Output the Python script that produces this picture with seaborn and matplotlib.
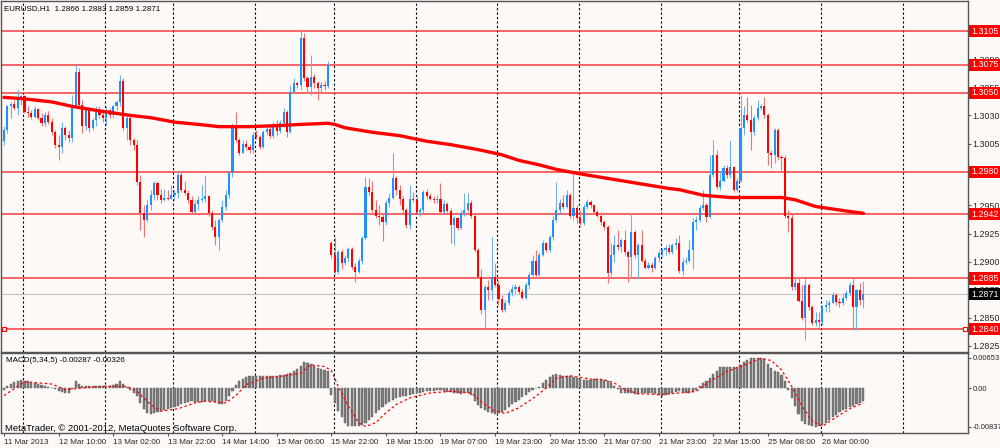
import numpy as np
import matplotlib
matplotlib.use("Agg")
import matplotlib.pyplot as plt
import matplotlib.transforms as mtransforms
import seaborn as sns

# EURUSD H1 candles
opens = [
    1.3007, 1.3017, 1.3038, 1.3040, 1.3037, 1.3046, 1.3047, 1.3033, 1.3032, 1.3029,
    1.3036, 1.3028, 1.3023, 1.3030, 1.3024, 1.3015, 1.3004, 1.3002, 1.3019, 1.3013,
    1.3010, 1.3038, 1.3069, 1.3039, 1.3021, 1.3035, 1.3019, 1.3026, 1.3033, 1.3030,
    1.3028, 1.3035, 1.3030, 1.3038, 1.3042, 1.3061, 1.3019, 1.3028, 1.3008, 1.3004,
    1.2971, 1.2943, 1.2937, 1.2950, 1.2959, 1.2970, 1.2959, 1.2955, 1.2957, 1.2956,
    1.2959, 1.2961, 1.2977, 1.2964, 1.2961, 1.2955, 1.2944, 1.2951, 1.2955, 1.2956,
    1.2958, 1.2943, 1.2931, 1.2922, 1.2937, 1.2949, 1.2959, 1.2979, 1.3019, 1.3008,
    1.2997, 1.3005, 1.3002, 1.2999, 1.3013, 1.3011, 1.3002, 1.3015, 1.3018, 1.3012,
    1.3021, 1.3016, 1.3023, 1.3033, 1.3015, 1.3051, 1.3059, 1.3057, 1.3099, 1.3063,
    1.3055, 1.3064, 1.3059, 1.3054, 1.3057, 1.3056, 1.2917, 1.2906, 1.2891, 1.2909,
    1.2899, 1.2903, 1.2911, 1.2895, 1.2891, 1.2901, 1.2921, 1.2966, 1.2962, 1.2946,
    1.2941, 1.2940, 1.2935, 1.2952, 1.2957, 1.2974, 1.2964, 1.2956, 1.2946, 1.2933,
    1.2956, 1.2955, 1.2944, 1.2946, 1.2962, 1.2958, 1.2956, 1.2955, 1.2956, 1.2944,
    1.2951, 1.2945, 1.2933, 1.2939, 1.2930, 1.2943, 1.2946, 1.2952, 1.2941, 1.2910,
    1.2886, 1.2857, 1.2877, 1.2875, 1.2886, 1.2879, 1.2867, 1.2857, 1.2863, 1.2872,
    1.2876, 1.2877, 1.2873, 1.2868, 1.2879, 1.2888, 1.2901, 1.2888, 1.2906, 1.2917,
    1.2910, 1.2922, 1.2937, 1.2946, 1.2952, 1.2949, 1.2959, 1.2941, 1.2948, 1.2939,
    1.2934, 1.2949, 1.2953, 1.2950, 1.2944, 1.2941, 1.2935,
    1.2931, 1.2890, 1.2906, 1.2915, 1.2913, 1.2919, 1.2909, 1.2904, 1.2926, 1.2906,
    1.2915, 1.2901, 1.2894, 1.2897, 1.2894, 1.2903, 1.2908, 1.2910, 1.2912,
    1.2909, 1.2915, 1.2917, 1.2892, 1.2900, 1.2901, 1.2910, 1.2935, 1.2937, 1.2948,
    1.2950, 1.2940, 1.2977, 1.2995, 1.2966, 1.2972, 1.2983, 1.2977, 1.2984, 1.2964,
    1.2972, 1.3019, 1.3030, 1.3026, 1.3015, 1.3028, 1.3037, 1.3038, 1.3030, 1.2997,
    1.2995, 1.3017, 1.2993, 1.2992, 1.2941, 1.2939, 1.2877, 1.2881, 1.2865, 1.2850,
    1.2879, 1.2860, 1.2845, 1.2848, 1.2846, 1.2860, 1.2861, 1.2863, 1.2870, 1.2864,
    1.2863, 1.2868, 1.2872, 1.2879, 1.2860, 1.2875, 1.2866,
]
highs = [
    1.3021, 1.3039, 1.3042, 1.3044, 1.3053, 1.3048, 1.3048, 1.3038, 1.3035, 1.3038,
    1.3037, 1.3032, 1.3033, 1.3034, 1.3028, 1.3017, 1.3013, 1.3024, 1.3021, 1.3017,
    1.3048, 1.3075, 1.3072, 1.3044, 1.3037, 1.3037, 1.3028, 1.3038, 1.3038, 1.3035,
    1.3038, 1.3037, 1.3039, 1.3044, 1.3066, 1.3063, 1.3030, 1.3030, 1.3010, 1.3008,
    1.2977, 1.2950, 1.2955, 1.2964, 1.2972, 1.2972, 1.2965, 1.2965, 1.2964, 1.2968,
    1.2964, 1.2980, 1.2980, 1.2972, 1.2964, 1.2958, 1.2955, 1.2958, 1.2968, 1.2977,
    1.2959, 1.2946, 1.2937, 1.2939, 1.2955, 1.2964, 1.2981, 1.3023, 1.3033, 1.3010,
    1.3008, 1.3008, 1.3005, 1.3015, 1.3017, 1.3013, 1.3017, 1.3021, 1.3021, 1.3024,
    1.3026, 1.3026, 1.3037, 1.3035, 1.3057, 1.3063, 1.3061, 1.3107, 1.3103, 1.3065,
    1.3084, 1.3067, 1.3061, 1.3060, 1.3061, 1.3078, 1.2918, 1.2922, 1.2910, 1.2911,
    1.2906, 1.2913, 1.2913, 1.2899, 1.2903, 1.2923, 1.2975, 1.2974, 1.2972, 1.2955,
    1.2950, 1.2943, 1.2955, 1.2961, 1.2997, 1.2976, 1.2968, 1.2958, 1.2948, 1.2968,
    1.2962, 1.2958, 1.2949, 1.2964, 1.2965, 1.2961, 1.2958, 1.2959, 1.2970, 1.2955,
    1.2953, 1.2948, 1.2941, 1.2940, 1.2946, 1.2961, 1.2961, 1.2955, 1.2943, 1.2912,
    1.2893, 1.2879, 1.2884, 1.2922, 1.2899, 1.2884, 1.2870, 1.2866, 1.2875, 1.2879,
    1.2880, 1.2879, 1.2876, 1.2882, 1.2891, 1.2906, 1.2910, 1.2909, 1.2919, 1.2917,
    1.2924, 1.2941, 1.2971, 1.2956, 1.2959, 1.2964, 1.2961, 1.2979, 1.2950, 1.2946,
    1.2951, 1.2956, 1.2955, 1.2950, 1.2946, 1.2944, 1.2937,
    1.2933, 1.2917, 1.2924, 1.2928, 1.2921, 1.2928, 1.2910, 1.2943, 1.2928, 1.2917,
    1.2928, 1.2903, 1.2900, 1.2900, 1.2905, 1.2910, 1.2912, 1.2915, 1.2916,
    1.2917, 1.2921, 1.2924, 1.2903, 1.2904, 1.2919, 1.2939, 1.2941, 1.2950, 1.2964,
    1.2952, 1.2995, 1.3008, 1.2999, 1.2981, 1.2986, 1.2986, 1.3008, 1.2985, 1.2974,
    1.3048, 1.3038, 1.3046, 1.3039, 1.3030, 1.3044, 1.3040, 1.3046, 1.3032, 1.2999,
    1.3019, 1.3019, 1.2995, 1.2995, 1.2946, 1.2943, 1.2885, 1.2886, 1.2879, 1.2885,
    1.2881, 1.2861, 1.2855, 1.2855, 1.2861, 1.2866, 1.2866, 1.2873, 1.2872, 1.2868,
    1.2871, 1.2875, 1.2882, 1.2885, 1.2876, 1.2881, 1.2883,
]
lows = [
    1.3004, 1.3014, 1.3028, 1.3035, 1.3030, 1.3039, 1.3032, 1.3029, 1.3027, 1.3028,
    1.3026, 1.3021, 1.3021, 1.3022, 1.3013, 1.3001, 1.2990, 1.2997, 1.3008, 1.3006,
    1.3006, 1.3037, 1.3037, 1.3014, 1.3017, 1.3015, 1.3017, 1.3021, 1.3028, 1.3024,
    1.3021, 1.3028, 1.3028, 1.3035, 1.3038, 1.3017, 1.3008, 1.3004, 1.2999, 1.2968,
    1.2928, 1.2922, 1.2935, 1.2946, 1.2955, 1.2955, 1.2952, 1.2954, 1.2955, 1.2956,
    1.2955, 1.2957, 1.2962, 1.2959, 1.2952, 1.2942, 1.2943, 1.2946, 1.2953, 1.2953,
    1.2941, 1.2928, 1.2915, 1.2910, 1.2935, 1.2946, 1.2957, 1.2975, 1.3006, 1.2995,
    1.2997, 1.2999, 1.2997, 1.2997, 1.3009, 1.3000, 1.3001, 1.3013, 1.3010, 1.3010,
    1.3013, 1.3014, 1.3020, 1.3011, 1.3014, 1.3051, 1.3054, 1.3053, 1.3061, 1.3051,
    1.3048, 1.3054, 1.3044, 1.3050, 1.3053, 1.3054, 1.2903, 1.2889, 1.2889, 1.2893,
    1.2897, 1.2900, 1.2893, 1.2882, 1.2890, 1.2898, 1.2919, 1.2959, 1.2944, 1.2939,
    1.2933, 1.2918, 1.2933, 1.2949, 1.2956, 1.2959, 1.2950, 1.2943, 1.2930, 1.2929,
    1.2953, 1.2942, 1.2941, 1.2943, 1.2956, 1.2955, 1.2952, 1.2952, 1.2942, 1.2943,
    1.2943, 1.2917, 1.2915, 1.2928, 1.2929, 1.2941, 1.2944, 1.2939, 1.2909, 1.2885,
    1.2853, 1.2842, 1.2866, 1.2866, 1.2877, 1.2861, 1.2855, 1.2855, 1.2861, 1.2869,
    1.2872, 1.2871, 1.2867, 1.2867, 1.2876, 1.2887, 1.2885, 1.2887, 1.2905, 1.2909,
    1.2909, 1.2919, 1.2935, 1.2943, 1.2947, 1.2948, 1.2939, 1.2937, 1.2934, 1.2932,
    1.2933, 1.2947, 1.2948, 1.2942, 1.2940, 1.2933, 1.2928,
    1.2881, 1.2887, 1.2900, 1.2910, 1.2909, 1.2906, 1.2882, 1.2885, 1.2903, 1.2885,
    1.2900, 1.2893, 1.2893, 1.2891, 1.2893, 1.2900, 1.2904, 1.2906, 1.2907,
    1.2907, 1.2911, 1.2890, 1.2888, 1.2898, 1.2900, 1.2893, 1.2928, 1.2935, 1.2946,
    1.2935, 1.2939, 1.2975, 1.2965, 1.2964, 1.2971, 1.2974, 1.2974, 1.2962, 1.2962,
    1.2971, 1.3013, 1.3024, 1.2999, 1.3013, 1.3026, 1.3035, 1.3028, 1.2986, 1.2983,
    1.2988, 1.2990, 1.2981, 1.2939, 1.2926, 1.2875, 1.2875, 1.2864, 1.2848, 1.2830,
    1.2857, 1.2844, 1.2843, 1.2842, 1.2844, 1.2855, 1.2855, 1.2862, 1.2861, 1.2860,
    1.2861, 1.2866, 1.2869, 1.2839, 1.2839, 1.2861, 1.2859,
]
closes = [
    1.3017, 1.3038, 1.3040, 1.3037, 1.3046, 1.3047, 1.3033, 1.3032, 1.3029, 1.3036,
    1.3028, 1.3023, 1.3030, 1.3024, 1.3015, 1.3004, 1.3002, 1.3019, 1.3013, 1.3010,
    1.3038, 1.3069, 1.3039, 1.3021, 1.3035, 1.3019, 1.3026, 1.3033, 1.3030, 1.3028,
    1.3035, 1.3030, 1.3038, 1.3042, 1.3061, 1.3019, 1.3028, 1.3008, 1.3004, 1.2971,
    1.2943, 1.2937, 1.2950, 1.2959, 1.2970, 1.2959, 1.2955, 1.2957, 1.2956, 1.2959,
    1.2961, 1.2977, 1.2964, 1.2961, 1.2955, 1.2944, 1.2951, 1.2955, 1.2956, 1.2958,
    1.2943, 1.2931, 1.2922, 1.2937, 1.2949, 1.2959, 1.2979, 1.3019, 1.3008, 1.2997,
    1.3005, 1.3002, 1.2999, 1.3013, 1.3011, 1.3002, 1.3015, 1.3018, 1.3012, 1.3021,
    1.3016, 1.3023, 1.3033, 1.3015, 1.3051, 1.3059, 1.3057, 1.3099, 1.3063, 1.3055,
    1.3064, 1.3059, 1.3054, 1.3057, 1.3056, 1.3075, 1.2906, 1.2891, 1.2909, 1.2899,
    1.2903, 1.2911, 1.2895, 1.2891, 1.2901, 1.2921, 1.2966, 1.2962, 1.2946, 1.2941,
    1.2940, 1.2935, 1.2952, 1.2957, 1.2974, 1.2964, 1.2956, 1.2946, 1.2933, 1.2956,
    1.2955, 1.2944, 1.2946, 1.2962, 1.2958, 1.2956, 1.2955, 1.2956, 1.2944, 1.2951,
    1.2945, 1.2933, 1.2939, 1.2930, 1.2943, 1.2946, 1.2952, 1.2941, 1.2910, 1.2886,
    1.2857, 1.2877, 1.2875, 1.2886, 1.2879, 1.2867, 1.2857, 1.2863, 1.2872, 1.2876,
    1.2877, 1.2873, 1.2868, 1.2879, 1.2888, 1.2901, 1.2888, 1.2906, 1.2917, 1.2910,
    1.2922, 1.2937, 1.2946, 1.2952, 1.2949, 1.2959, 1.2941, 1.2948, 1.2939, 1.2934,
    1.2949, 1.2953, 1.2950, 1.2944, 1.2941, 1.2935, 1.2931,
    1.2890, 1.2906, 1.2915, 1.2913, 1.2919, 1.2909, 1.2904, 1.2926, 1.2906, 1.2915,
    1.2901, 1.2894, 1.2897, 1.2894, 1.2903, 1.2908, 1.2910, 1.2912, 1.2909,
    1.2915, 1.2917, 1.2892, 1.2900, 1.2901, 1.2910, 1.2935, 1.2937, 1.2948, 1.2950,
    1.2940, 1.2977, 1.2995, 1.2966, 1.2972, 1.2983, 1.2977, 1.2984, 1.2964, 1.2972,
    1.3019, 1.3030, 1.3026, 1.3015, 1.3028, 1.3037, 1.3038, 1.3030, 1.2997, 1.2995,
    1.3017, 1.2993, 1.2992, 1.2941, 1.2939, 1.2877, 1.2881, 1.2865, 1.2850, 1.2879,
    1.2860, 1.2845, 1.2848, 1.2846, 1.2860, 1.2861, 1.2863, 1.2870, 1.2864, 1.2863,
    1.2868, 1.2872, 1.2879, 1.2860, 1.2875, 1.2866, 1.2871,
]

# moving average (thick red line), sampled along the bars
ma_bars = [0, 5, 14, 20, 28, 37, 43, 50, 57, 63, 72, 81, 87, 95, 97, 100, 108, 116,
           124, 131, 140, 146, 151, 157, 162, 169, 177, 183, 189, 195, 198, 205, 213,
           228, 232, 238, 247, 252]
ma_vals = [1.3046, 1.3045, 1.3042, 1.3038, 1.3034, 1.3030, 1.3028, 1.3024, 1.3022,
           1.3020, 1.3020, 1.3021, 1.3022, 1.3023, 1.3022, 1.3019, 1.3015, 1.3012,
           1.3007, 1.3004, 1.2999, 1.2995, 1.2990, 1.2986, 1.2982, 1.2978, 1.2974,
           1.2971, 1.2968, 1.2965, 1.2964, 1.2959, 1.2957, 1.2957, 1.2955, 1.2949,
           1.2945, 1.2943]

# MACD(5,34,5) histogram, one value per candle
macd_hist = [
    -0.00036, 0.00036, 0.00093, 0.00122, 0.00143, 0.00165, 0.00158, 0.00143, 0.00115, 0.00100,
    0.00079, 0.00065, 0.00050, 0.00029, 0.00000, -0.00022, -0.00057, -0.00079, -0.00100, -0.00108,
    -0.00022, 0.00143, 0.00093, 0.00050, 0.00036, 0.00036, 0.00036, 0.00036, 0.00036, 0.00036,
    0.00036, 0.00050, 0.00065, 0.00079, 0.00158, 0.00086, 0.00022, -0.00050, -0.00100, -0.00179,
    -0.00323, -0.00459, -0.00538, -0.00574, -0.00552, -0.00523, -0.00495, -0.00480, -0.00466, -0.00437,
    -0.00423, -0.00387, -0.00344, -0.00323, -0.00294, -0.00287, -0.00294, -0.00301, -0.00294, -0.00287,
    -0.00287, -0.00287, -0.00301, -0.00344, -0.00337, -0.00287, -0.00179, -0.00057, 0.00057, 0.00151,
    0.00201, 0.00229, 0.00251, 0.00265, 0.00265, 0.00265, 0.00265, 0.00265, 0.00265, 0.00265,
    0.00265, 0.00272, 0.00280, 0.00294, 0.00323, 0.00359, 0.00409, 0.00480, 0.00566, 0.00545,
    0.00516, 0.00473, 0.00445, 0.00423, 0.00394, 0.00366, -0.00143, -0.00323, -0.00502, -0.00624,
    -0.00753, -0.00825, -0.00830, -0.00834, -0.00830, -0.00810, -0.00760, -0.00703, -0.00624, -0.00545,
    -0.00480, -0.00409, -0.00344, -0.00294, -0.00258, -0.00215, -0.00194, -0.00179, -0.00165, -0.00143,
    -0.00122, -0.00108, -0.00108, -0.00093, -0.00072, -0.00072, -0.00057, -0.00050, -0.00050, -0.00057,
    -0.00079, -0.00093, -0.00108, -0.00115, -0.00122, -0.00100, -0.00100, -0.00143, -0.00287, -0.00359,
    -0.00430, -0.00488, -0.00523, -0.00545, -0.00566, -0.00552, -0.00531, -0.00488, -0.00423, -0.00351,
    -0.00308, -0.00251, -0.00194, -0.00143, -0.00086, -0.00043, -0.00007, 0.00014, 0.00100, 0.00165,
    0.00244, 0.00287, 0.00308, 0.00287, 0.00265, 0.00265, 0.00251, 0.00237, 0.00215, 0.00194,
    0.00179, 0.00165, 0.00179, 0.00194, 0.00194, 0.00194, 0.00172, 0.00158, 0.00108, 0.00050,
    -0.00014, -0.00115, -0.00115, -0.00108, -0.00115, -0.00129, -0.00136, -0.00115, -0.00108, -0.00108,
    -0.00115, -0.00129, -0.00158, -0.00165, -0.00151, -0.00129, -0.00108, -0.00093, -0.00072, -0.00086,
    -0.00108, -0.00108, -0.00093, -0.00050, 0.00036, 0.00108, 0.00158, 0.00215, 0.00294, 0.00373,
    0.00466, 0.00466, 0.00466, 0.00452, 0.00452, 0.00466, 0.00509, 0.00559, 0.00602, 0.00645,
    0.00653, 0.00653, 0.00645, 0.00624, 0.00531, 0.00430, 0.00359, 0.00344, 0.00272, 0.00143,
    -0.00036, -0.00215, -0.00394, -0.00574, -0.00717, -0.00774, -0.00810, -0.00830, -0.00837, -0.00830,
    -0.00803, -0.00753, -0.00695, -0.00631, -0.00588, -0.00531, -0.00480, -0.00452, -0.00420, -0.00380,
    -0.00350, -0.00318, -0.00287,
]
sig_bars = [0, 6, 14, 18, 23, 29, 36, 39, 43, 46, 51, 56, 59, 65, 68, 71, 76, 81, 87, 90,
            94, 96, 98, 101, 104, 106, 109, 112, 115, 119, 125, 131, 137, 141, 144, 147,
            151, 156, 159, 162, 166, 172, 176, 179, 182, 186, 192, 198, 203, 207, 212,
            216, 222, 225, 228, 231, 234, 237, 240, 243, 248, 252]
sig_vals = [-0.00165, 0.00136, 0.00086, -0.00036, 0.0, 0.00036, 0.00036, -0.00072,
            -0.00359, -0.00502, -0.00452, -0.00323, -0.00287, -0.00323, -0.00165, 0.00072,
            0.00215, 0.00251, 0.00323, 0.00502, 0.00466, 0.00380, 0.00036, -0.00394,
            -0.00753, -0.00837, -0.00753, -0.00538, -0.00359, -0.00215, -0.00108, -0.00072,
            -0.00108, -0.00359, -0.00502, -0.00552, -0.00430, -0.00179, 0.0, 0.00215,
            0.00265, 0.00194, 0.00179, 0.00108, -0.00036, -0.00122, -0.00143, -0.00108,
            -0.00072, 0.00143, 0.00359, 0.00466, 0.00645, 0.00595, 0.00394, 0.00036,
            -0.00394, -0.00717, -0.00830, -0.00681, -0.00450, -0.00326]

levels = [1.3105, 1.3075, 1.3050, 1.2980, 1.2942, 1.2885, 1.2840]
price_ticks = [1.3080, 1.3055, 1.3030, 1.3005, 1.2950, 1.2925, 1.2900, 1.2875, 1.2850, 1.2825]
macd_ticks = [0.00653, 0.0, -0.00837]
macd_tick_labels = ["0.00653", "0.00", "-0.00837"]
time_labels = ["11 Mar 2013", "12 Mar 10:00", "13 Mar 02:00", "13 Mar 22:00",
               "14 Mar 14:00", "15 Mar 06:00", "15 Mar 22:00", "18 Mar 15:00",
               "19 Mar 07:00", "19 Mar 23:00", "20 Mar 15:00", "21 Mar 07:00",
               "21 Mar 23:00", "22 Mar 15:00", "25 Mar 08:00", "26 Mar 00:00"]
grid_bars = [5.6, 29.6, 49.6, 73.6, 96.8, 120.8, 144.6, 168.6, 192.7, 215.5, 239.6, 263.6]

sns.set_style("white")
plt.rcParams["font.family"] = ["Liberation Sans", "DejaVu Sans"]

bg = "#fdf9f7"
fs = 6.4
o = np.array(opens); h = np.array(highs); l = np.array(lows); c = np.array(closes)
n = len(c)
x = np.arange(n)
up = c >= o

fig = plt.figure(figsize=(10, 4.48), dpi=100, facecolor=bg)
ax = fig.add_axes([0.001, 1 - 351.5 / 448, 0.967, 350.5 / 448])
axm = fig.add_axes([0.001, 1 - 433 / 448, 0.967, 80 / 448])

for a in (ax, axm):
    a.set_facecolor(bg)
    a.set_xlim(-0.88, 282.7)
    for s in a.spines.values():
        s.set_color("#555555")
        s.set_linewidth(1.0)
    for g in grid_bars:
        a.axvline(g, color="black", lw=0.8, ls=(0, (2, 2)), zorder=1)

# price panel
ax.set_ylim(1.28201, 1.31317)
for lv in levels:
    ax.axhline(lv, color="#f23c3c", lw=1.1, zorder=2)
ax.axhline(c[-1], color="#c4c4c4", lw=0.8, zorder=2)

hi = np.maximum(h, np.maximum(o, c))
lo = np.minimum(l, np.minimum(o, c))
ax.vlines(x[up], lo[up], hi[up], color="#6fb0f2", lw=0.8, zorder=3)
ax.vlines(x[~up], lo[~up], hi[~up], color="#f47474", lw=0.8, zorder=3)
ax.bar(x, np.maximum(np.abs(c - o), 0.00005), bottom=np.minimum(o, c), width=0.62,
       color=np.where(up, "#1e90ff", "#ff0000"), linewidth=0, zorder=4)

sns.lineplot(x=ma_bars, y=ma_vals, ax=ax, color="#ff0000", lw=2.4, zorder=5)

trans = mtransforms.blended_transform_factory(ax.transAxes, ax.transData)
ax.plot([0.0035, 0.9965], [levels[-1], levels[-1]], transform=trans, ls="none",
        marker="s", ms=3, mfc="white", mec="red", mew=0.8, zorder=6)

ax.yaxis.tick_right()
ax.set_yticks(price_ticks)
ax.set_yticklabels([f"{v:.4f}" for v in price_ticks])
ax.tick_params(axis="y", direction="out", length=2.5, width=0.8, color="#555555",
               labelsize=fs, pad=0.8, right=True, left=False)
ax.set_xticks([])
ax.set_xlabel("")
ax.set_ylabel("")

for lv in levels:
    ax.text(1.0032, lv, f"{lv:.4f}", transform=trans, ha="left", va="center",
            fontsize=fs, color="white", clip_on=False, zorder=10,
            bbox=dict(boxstyle="square,pad=0.18", fc="#ff0000", ec="none"))
ax.text(1.0032, c[-1], f"{c[-1]:.4f}", transform=trans, ha="left", va="center",
        fontsize=fs, color="white", clip_on=False, zorder=10,
        bbox=dict(boxstyle="square,pad=0.18", fc="#000000", ec="none"))

# MACD panel
axm.set_ylim(-0.00977, 0.0076)
axm.bar(x, macd_hist, width=0.62, color="#7c7c7c", edgecolor="#5a5a5a", linewidth=0.3, zorder=3)
sns.lineplot(x=sig_bars, y=sig_vals, ax=axm, color="#ff0000", lw=0.9,
             linestyle=(0, (2, 2)), zorder=4)
axm.yaxis.tick_right()
axm.set_yticks(macd_ticks)
axm.set_yticklabels(macd_tick_labels)
axm.set_xticks(np.arange(len(time_labels)) * 16)
axm.set_xticklabels(time_labels, ha="left")
axm.tick_params(axis="y", direction="out", length=2.5, width=0.8, color="#555555",
                labelsize=5.5, pad=0.8, right=True, left=False)
axm.tick_params(axis="x", direction="out", length=2.5, width=0.8, color="#555555",
                labelsize=5.8, pad=1.5, bottom=True)
axm.set_xlabel("")
axm.set_ylabel("")

fig.text(0.004, 1 - 9 / 448,
         f"EURUSD,H1  {o[-1]:.4f} {h[-1]:.4f} {l[-1]:.4f} {c[-1]:.4f}",
         fontsize=5.8, va="center", ha="left", color="black")
fig.text(0.006, 1 - 361 / 448, f"MACD(5,34,5) {macd_hist[-1]:.5f} {sig_vals[-1]:.5f}",
         fontsize=5.8, va="center", ha="left", color="black")
fig.text(0.005, 1 - 428 / 448, "MetaTrader, © 2001-2012, MetaQuotes Software Corp.",
         fontsize=6.8, va="center", ha="left", color="black")

fig.savefig("out.png", dpi=100, facecolor=bg)
